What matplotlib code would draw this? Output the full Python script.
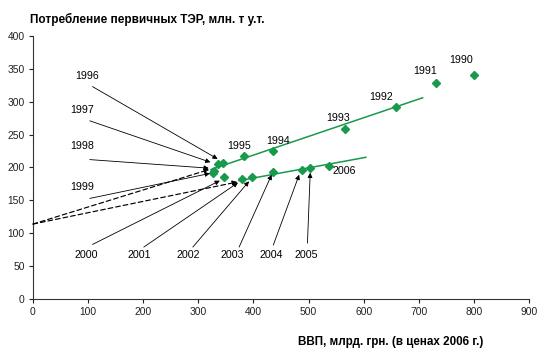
import matplotlib
matplotlib.use("Agg")
import matplotlib.pyplot as plt

plt.rcParams['font.family'] = ['Liberation Sans', 'DejaVu Sans']

years = [1990, 1991, 1992, 1993, 1994, 1995, 1996, 1997, 1998, 1999,
         2000, 2001, 2002, 2003, 2004, 2005, 2006]
gdp = [800, 732, 659, 566, 436, 383, 344, 335, 328, 326,
       347, 379, 398, 435, 489, 502, 537]
energy = [341, 329, 292, 259, 225, 217, 207, 205, 195, 191,
          186, 183, 185, 193, 196, 199, 202]

# trend lines (endpoints)
trend1_x = [323, 707]
trend1_y = [197, 306]
trend2_x = [374, 604]
trend2_y = [180, 215.5]

# dashed extrapolation arrows (start, end)
dash_start = (0, 114)
dash_ends = [(320, 197), (371, 178)]

# labels placed directly near the points
direct_labels = {1990: (777, 363), 1991: (712, 347), 1992: (631, 307),
                 1993: (554, 276), 1994: (445, 240), 1995: (374, 233),
                 2006: (565, 195)}
# labels with arrows: label position, arrow start, arrow tip
arrow_labels = {
    1996: ((98, 339), (108, 323), (335, 213)),
    1997: ((89, 288), (103, 271), (322, 208)),
    1998: ((89, 233), (103, 212), (319, 199)),
    1999: ((89, 170), (103, 153), (321, 191)),
    2000: ((97, 67), (108, 83), (339, 180)),
    2001: ((193, 67), (201, 79), (372, 177)),
    2002: ((281, 67), (290, 79), (392, 179)),
    2003: ((362, 67), (374, 79), (433, 189)),
    2004: ((432, 67), (436, 82), (483, 189)),
    2005: ((496, 67), (498, 85), (503, 192)),
}

green = '#179a4c'

fig = plt.figure(figsize=(5.46, 3.56), dpi=100)
ax = fig.add_axes([0.0604, 0.160, 0.9085, 0.739])

ax.plot(trend1_x, trend1_y, color=green, lw=1.1, zorder=2)
ax.plot(trend2_x, trend2_y, color=green, lw=1.1, zorder=2)
ax.plot(gdp, energy, linestyle='none', marker='D', markersize=3.6,
        color=green, zorder=3)

for end in dash_ends:
    ax.annotate('', xy=end, xytext=dash_start,
                arrowprops=dict(arrowstyle='-|>', color='black', lw=0.85,
                                linestyle=(0, (4, 2.5)), mutation_scale=7,
                                shrinkA=0, shrinkB=0), zorder=4)

fs = 7.7
for yr, (lx, ly) in direct_labels.items():
    ax.text(lx, ly, str(yr), ha='center', va='center', fontsize=fs)

for yr, (lab, start, tip) in arrow_labels.items():
    ax.text(lab[0], lab[1], str(yr), ha='center', va='center', fontsize=fs)
    ax.annotate('', xy=tip, xytext=start,
                arrowprops=dict(arrowstyle='-|>', color='black', lw=0.6,
                                mutation_scale=7, shrinkA=0, shrinkB=0),
                zorder=4)

ax.set_xlim(0, 900)
ax.set_ylim(0, 400)
ax.set_xticks(range(0, 901, 100))
ax.set_yticks(range(0, 401, 50))
ax.tick_params(labelsize=7.4, length=3, width=0.8, colors='#222222', pad=3)
for s in ['top', 'right']:
    ax.spines[s].set_visible(False)
for s in ['left', 'bottom']:
    ax.spines[s].set_linewidth(0.8)
    ax.spines[s].set_color('#333333')

fig.text(0.055, 0.946, 'Потребление первичных ТЭР, млн. т у.т.',
         fontsize=8.5, fontweight='bold', ha='left', va='center')
fig.text(0.715, 0.040, 'ВВП, млрд. грн. (в ценах 2006 г.)',
         fontsize=8.4, fontweight='bold', ha='center', va='center')

fig.savefig('out.png', dpi=100)
